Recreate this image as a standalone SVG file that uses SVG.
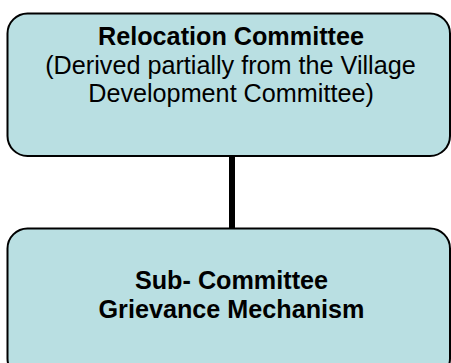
<svg xmlns="http://www.w3.org/2000/svg" width="451" height="363" viewBox="0 0 451 363">
  <style>
    .box { fill: #B9DFE2; stroke: #000; stroke-width: 2; }
    .t { font-family: "Liberation Sans", Arial, sans-serif; font-size: 25.2px; fill: #000; text-anchor: middle; }
    .b { font-weight: bold; }
    .link { stroke: #000; stroke-width: 6; fill: none; }
  </style>
  <rect width="451" height="363" fill="#fff"/>
  <g id="connectors">
    <line class="link" x1="232" y1="156" x2="232" y2="229"/>
  </g>
  <g id="relocation-committee">
    <rect class="box" x="7.5" y="13.5" width="442.5" height="142.5" rx="20" ry="20"/>
    <text class="t b" x="231" y="45">Relocation Committee</text>
    <text class="t" x="230.5" y="74">(Derived partially from the Village</text>
    <text class="t" x="231" y="102">Development Committee)</text>
  </g>
  <g id="sub-committee">
    <rect class="box" x="7.5" y="228.5" width="442.5" height="150" rx="20" ry="20"/>
    <text class="t b" x="231.5" y="289">Sub- Committee</text>
    <text class="t b" x="231.5" y="318">Grievance Mechanism</text>
  </g>
</svg>
